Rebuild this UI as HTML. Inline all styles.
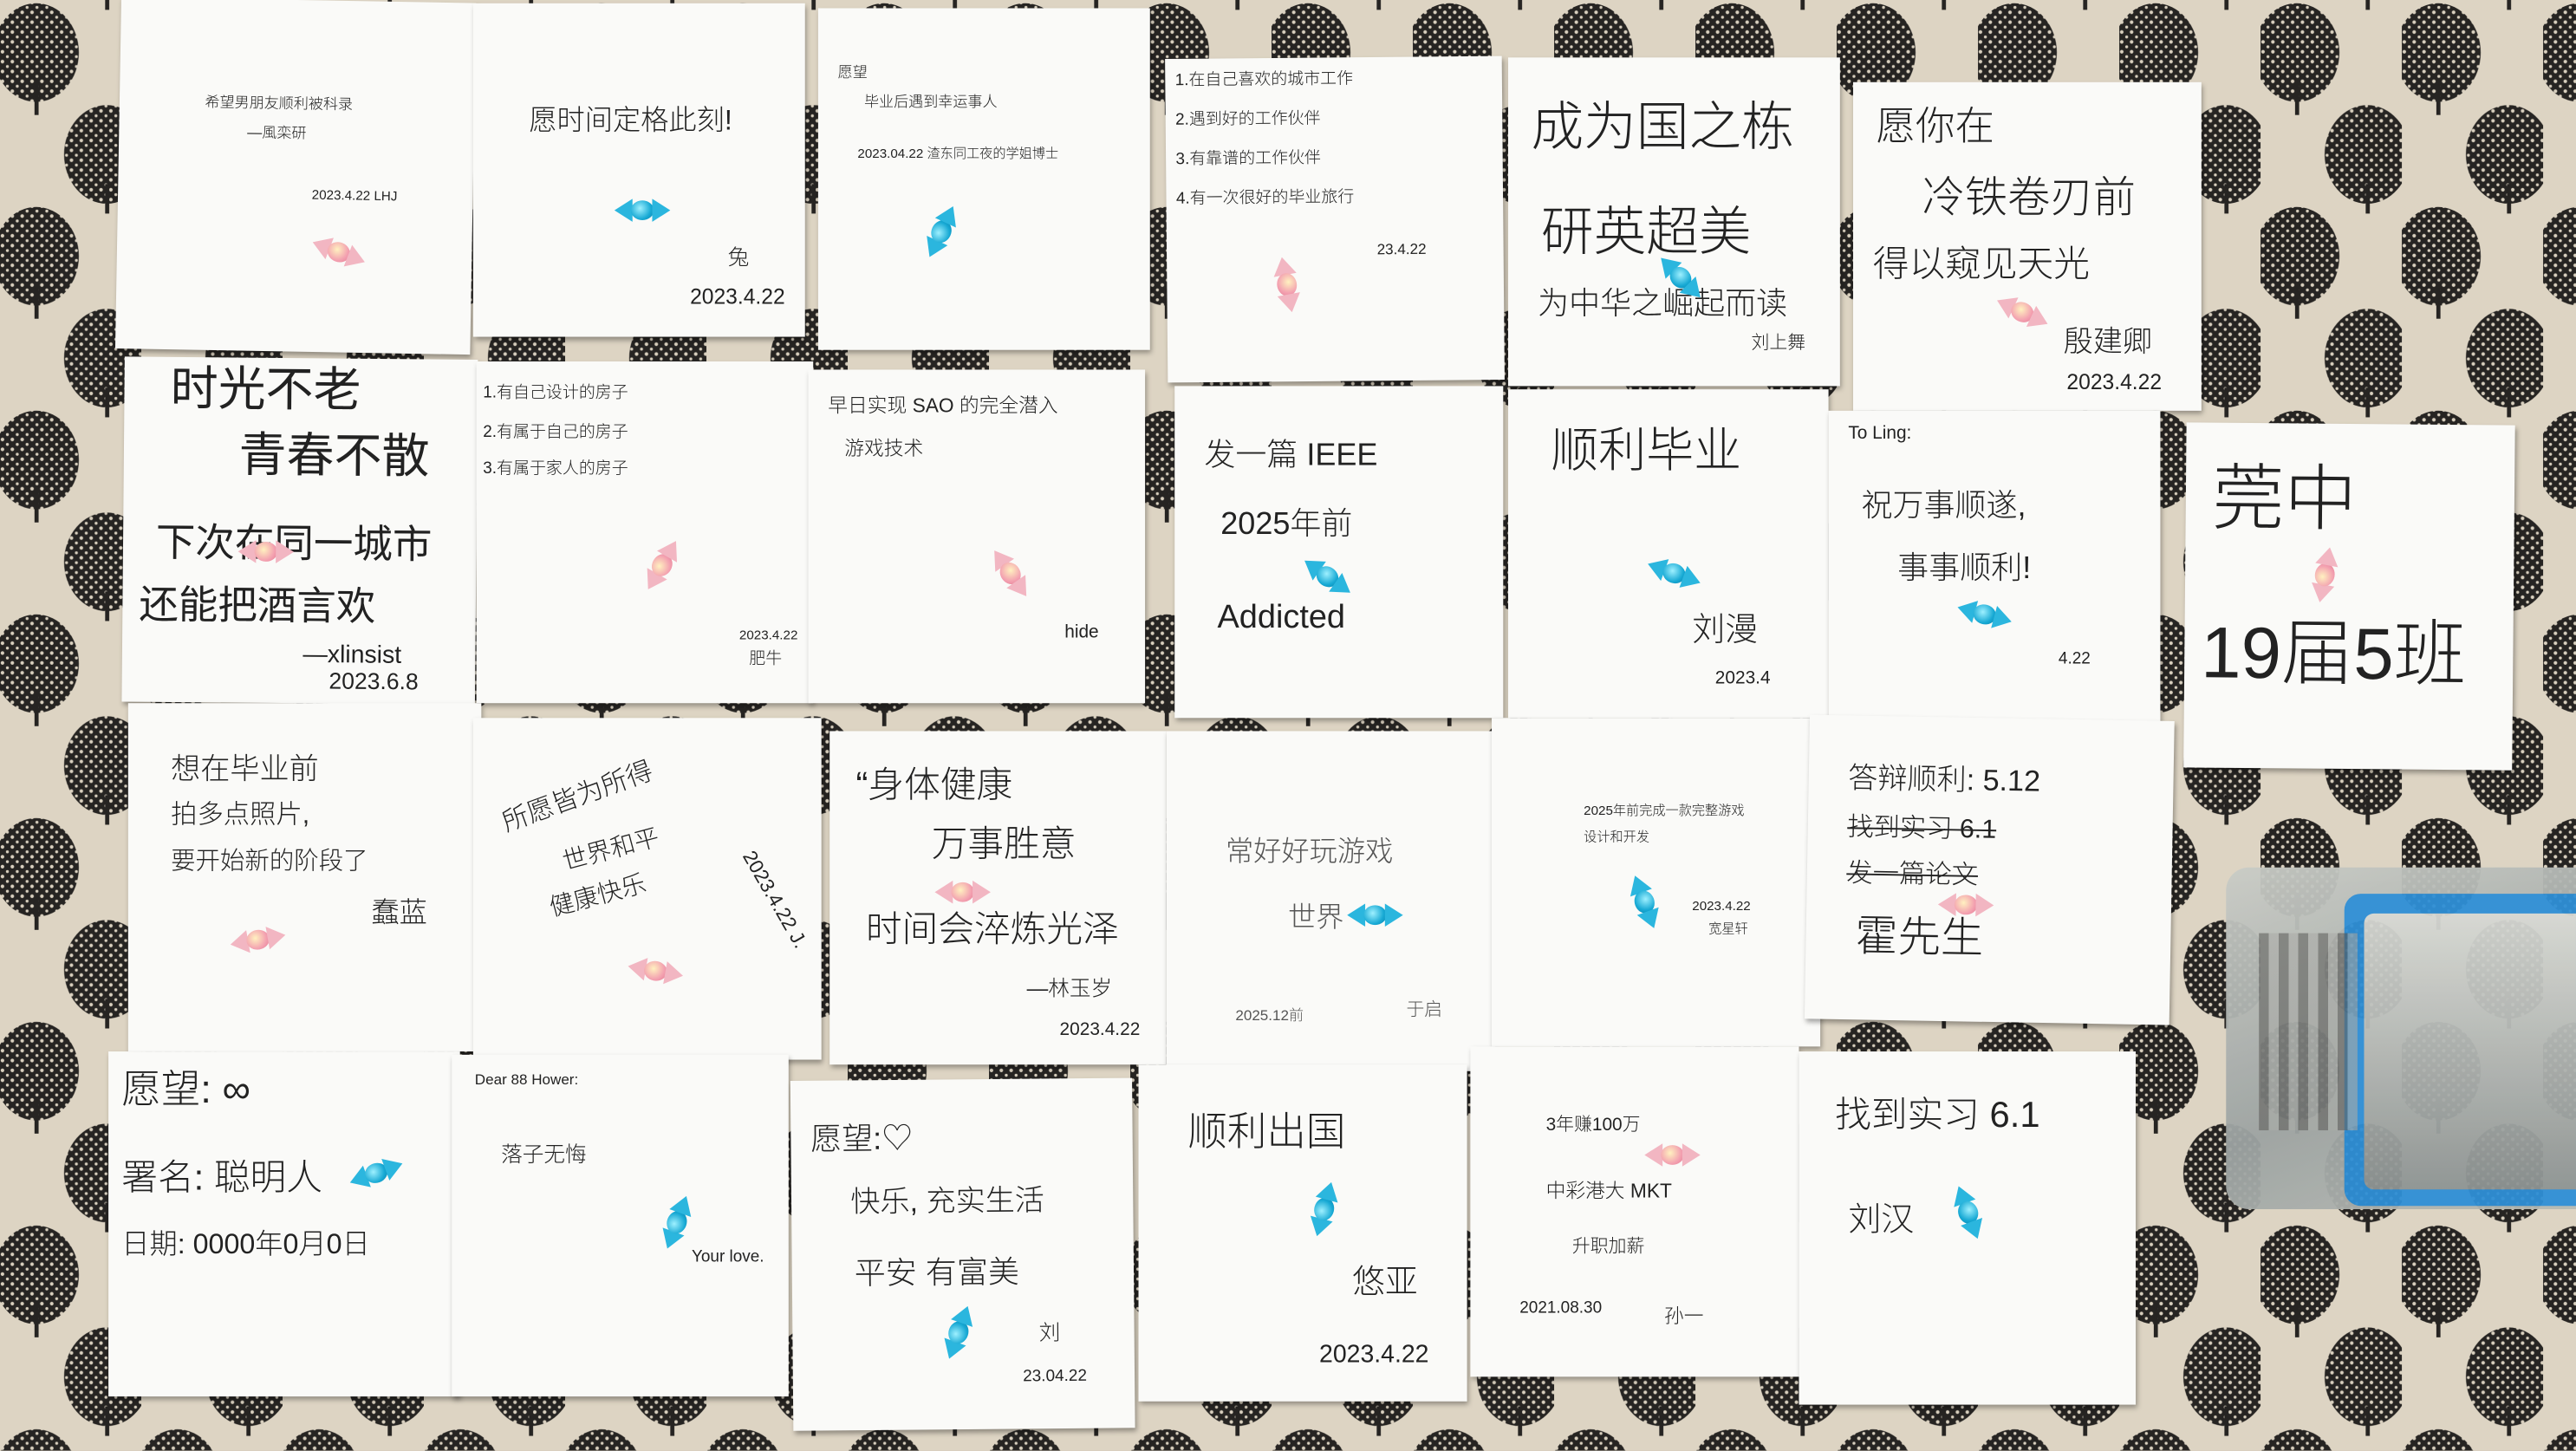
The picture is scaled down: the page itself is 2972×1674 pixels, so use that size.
<!DOCTYPE html>
<html><head><meta charset="utf-8">
<style>
html,body{margin:0;padding:0;width:2972px;height:1673px;overflow:hidden;background:#d6cdbd;}
#stage{position:absolute;left:0;top:0;width:1568px;height:883px;transform:scale(1.8954);transform-origin:0 0;}
.note{position:absolute;background:#fafaf8;box-shadow:1px 2px 3px rgba(0,0,0,.35);font-family:"Liberation Sans","Noto Sans CJK SC",sans-serif;color:#222;overflow:hidden;}
.t{position:absolute;white-space:nowrap;font-weight:300;line-height:1.15;}
.candy{position:absolute;width:34px;height:16px;}
.candy .b{position:absolute;left:10px;top:2px;width:14px;height:12px;border-radius:50%;}
.candy .l,.candy .r{position:absolute;top:1px;width:0;height:0;border-top:7px solid transparent;border-bottom:7px solid transparent;}
.candy .l{left:0;border-right:11px solid}
.candy .r{right:0;border-left:11px solid}
.pink .b{background:radial-gradient(circle at 40% 40%,#fff1c0,#f3a0b0 60%,#e27a90)}
.pink .l,.pink .r{border-left-color:#f2b6c2;border-right-color:#f2b6c2}
.blue .b{background:radial-gradient(circle at 40% 40%,#9ef0ff,#17a9d4 60%,#0a7ea8)}
.blue .l,.blue .r{border-left-color:#2bb6de;border-right-color:#2bb6de}
</style></head>
<body>
<div id="stage">
<svg width="1568" height="883" style="position:absolute;left:0;top:0">
<defs>
<pattern id="lace" width="6" height="6" patternUnits="userSpaceOnUse">
<rect width="6" height="6" fill="#262422"/>
<circle cx="1.5" cy="1.5" r="1.1" fill="#d9d0bf"/>
<circle cx="4.5" cy="4.5" r="0.9" fill="#d9d0bf"/>
</pattern>
<pattern id="tp" width="86" height="124" patternUnits="userSpaceOnUse">
<rect width="86" height="124" fill="#ddd4c3"/>
<ellipse cx="22" cy="32" rx="26" ry="30" fill="url(#lace)"/>
<rect x="21" y="50" width="2.5" height="20" fill="#262422"/>
<ellipse cx="65" cy="94" rx="26" ry="30" fill="url(#lace)"/>
<rect x="64" y="112" width="2.5" height="14" fill="#262422"/>
<rect x="64" y="0" width="2.5" height="6" fill="#262422"/>
</pattern>
</defs>
<rect width="1568" height="883" fill="url(#tp)"/>
</svg>

<!-- Row 1 -->
<div class="note" style="left:72px;top:0;width:216px;height:214px;transform:rotate(1deg)">
<div class="t" style="left:52px;top:58px;font-size:9px">希望男朋友顺利被科录</div>
<div class="t" style="left:78px;top:76px;font-size:9px">—風栾研</div>
<div class="t" style="left:118px;top:114px;font-size:8px">2023.4.22 LHJ</div>
<div class="candy pink" style="left:118px;top:145px;transform:rotate(20deg)"><div class="l"></div><div class="b"></div><div class="r"></div></div>
</div>
<div class="note" style="left:288px;top:2px;width:202px;height:203px">
<div class="t" style="left:34px;top:62px;font-size:17px">愿时间定格此刻!</div>
<div class="candy blue" style="left:86px;top:118px"><div class="l"></div><div class="b"></div><div class="r"></div></div>
<div class="t" style="left:155px;top:148px;font-size:13px">兔</div>
<div class="t" style="left:132px;top:172px;font-size:13px">2023.4.22</div>
</div>
<div class="note" style="left:498px;top:5px;width:202px;height:208px">
<div class="t" style="left:12px;top:34px;font-size:9px">愿望</div>
<div class="t" style="left:28px;top:52px;font-size:9px">毕业后遇到幸运事人</div>
<div class="t" style="left:24px;top:84px;font-size:8px">2023.04.22 渣东同工夜的学姐博士</div>
<div class="candy blue" style="left:58px;top:128px;transform:rotate(-65deg)"><div class="l"></div><div class="b"></div><div class="r"></div></div>
</div>
<div class="note" style="left:710px;top:35px;width:205px;height:197px;transform:rotate(-0.5deg)">
<div class="t" style="left:6px;top:8px;font-size:10px">1.在自己喜欢的城市工作</div>
<div class="t" style="left:6px;top:32px;font-size:10px">2.遇到好的工作伙伴</div>
<div class="t" style="left:6px;top:56px;font-size:10px">3.有靠谱的工作伙伴</div>
<div class="t" style="left:6px;top:80px;font-size:10px">4.有一次很好的毕业旅行</div>
<div class="candy pink" style="left:56px;top:130px;transform:rotate(80deg)"><div class="l"></div><div class="b"></div><div class="r"></div></div>
<div class="t" style="left:128px;top:112px;font-size:9px">23.4.22</div>
</div>
<div class="note" style="left:918px;top:35px;width:202px;height:200px">
<div class="t" style="left:14px;top:24px;font-size:32px">成为国之栋</div>
<div class="t" style="left:20px;top:88px;font-size:32px">研英超美</div>
<div class="t" style="left:18px;top:140px;font-size:19px">为中华之崛起而读</div>
<div class="t" style="left:148px;top:168px;font-size:11px">刘上舞</div>
<div class="candy blue" style="left:88px;top:126px;transform:rotate(45deg)"><div class="l"></div><div class="b"></div><div class="r"></div></div>
</div>
<div class="note" style="left:1128px;top:50px;width:212px;height:200px">
<div class="t" style="left:14px;top:14px;font-size:24px">愿你在</div>
<div class="t" style="left:42px;top:56px;font-size:26px">冷铁卷刃前</div>
<div class="t" style="left:12px;top:98px;font-size:22px">得以窥见天光</div>
<div class="candy pink" style="left:86px;top:132px;transform:rotate(25deg)"><div class="l"></div><div class="b"></div><div class="r"></div></div>
<div class="t" style="left:128px;top:148px;font-size:18px">殷建卿</div>
<div class="t" style="left:130px;top:176px;font-size:13px">2023.4.22</div>
</div>

<!-- Row 2 -->
<div class="note" style="left:75px;top:218px;width:215px;height:210px;transform:rotate(0.5deg)">
<div class="t" style="left:28px;top:4px;font-size:29px;font-weight:400">时光不老</div>
<div class="t" style="left:70px;top:44px;font-size:29px;font-weight:400">青春不散</div>
<div class="t" style="left:20px;top:100px;font-size:24px;font-weight:400">下次在同一城市</div>
<div class="t" style="left:10px;top:138px;font-size:24px;font-weight:400">还能把酒言欢</div>
<div class="t" style="left:110px;top:172px;font-size:15px">—xlinsist</div>
<div class="t" style="left:126px;top:188px;font-size:14px;font-weight:400">2023.6.8</div>
<div class="candy pink" style="left:70px;top:110px"><div class="l"></div><div class="b"></div><div class="r"></div></div>
</div>
<div class="note" style="left:290px;top:220px;width:205px;height:208px">
<div class="t" style="left:4px;top:14px;font-size:10px">1.有自己设计的房子</div>
<div class="t" style="left:4px;top:38px;font-size:10px">2.有属于自己的房子</div>
<div class="t" style="left:4px;top:60px;font-size:10px">3.有属于家人的房子</div>
<div class="candy pink" style="left:96px;top:116px;transform:rotate(-60deg)"><div class="l"></div><div class="b"></div><div class="r"></div></div>
<div class="t" style="left:160px;top:162px;font-size:8px">2023.4.22</div>
<div class="t" style="left:166px;top:176px;font-size:10px">肥牛</div>
</div>
<div class="note" style="left:492px;top:225px;width:205px;height:203px">
<div class="t" style="left:12px;top:16px;font-size:12px">早日实现 SAO 的完全潜入</div>
<div class="t" style="left:22px;top:42px;font-size:12px">游戏技术</div>
<div class="candy pink" style="left:106px;top:116px;transform:rotate(55deg)"><div class="l"></div><div class="b"></div><div class="r"></div></div>
<div class="t" style="left:156px;top:154px;font-size:11px">hide</div>
</div>
<div class="note" style="left:715px;top:235px;width:200px;height:202px">
<div class="t" style="left:18px;top:32px;font-size:19px">发一篇 IEEE</div>
<div class="t" style="left:28px;top:74px;font-size:19px">2025年前</div>
<div class="t" style="left:26px;top:130px;font-size:20px">Addicted</div>
<div class="candy blue" style="left:76px;top:108px;transform:rotate(35deg)"><div class="l"></div><div class="b"></div><div class="r"></div></div>
</div>
<div class="note" style="left:918px;top:237px;width:195px;height:200px">
<div class="t" style="left:26px;top:22px;font-size:29px">顺利毕业</div>
<div class="candy blue" style="left:84px;top:104px;transform:rotate(20deg)"><div class="l"></div><div class="b"></div><div class="r"></div></div>
<div class="t" style="left:112px;top:136px;font-size:20px">刘漫</div>
<div class="t" style="left:126px;top:170px;font-size:11px">2023.4</div>
</div>
<div class="note" style="left:1113px;top:250px;width:202px;height:200px">
<div class="t" style="left:12px;top:8px;font-size:11px">To Ling:</div>
<div class="t" style="left:20px;top:48px;font-size:19px">祝万事顺遂,</div>
<div class="t" style="left:42px;top:86px;font-size:19px">事事顺利!</div>
<div class="candy blue" style="left:78px;top:116px;transform:rotate(15deg)"><div class="l"></div><div class="b"></div><div class="r"></div></div>
<div class="t" style="left:140px;top:146px;font-size:10px">4.22</div>
</div>
<div class="note" style="left:1330px;top:258px;width:200px;height:210px;transform:rotate(0.5deg)">
<div class="t" style="left:16px;top:22px;font-size:44px">莞中</div>
<div class="t" style="left:10px;top:116px;font-size:44px">19届5班</div>
<div class="candy pink" style="left:68px;top:84px;transform:rotate(-80deg)"><div class="l"></div><div class="b"></div><div class="r"></div></div>
</div>

<!-- Row 3 -->
<div class="note" style="left:78px;top:428px;width:215px;height:212px">
<div class="t" style="left:26px;top:30px;font-size:18px">想在毕业前</div>
<div class="t" style="left:26px;top:60px;font-size:16px">拍多点照片,</div>
<div class="t" style="left:26px;top:88px;font-size:15px">要开始新的阶段了</div>
<div class="t" style="left:148px;top:118px;font-size:17px">蠢蓝</div>
<div class="candy pink" style="left:62px;top:136px;transform:rotate(-10deg)"><div class="l"></div><div class="b"></div><div class="r"></div></div>
</div>
<div class="note" style="left:288px;top:437px;width:212px;height:208px">
<div class="t" style="left:16px;top:40px;font-size:16px;transform:rotate(-20deg)">所愿皆为所得</div>
<div class="t" style="left:54px;top:72px;font-size:15px;transform:rotate(-15deg)">世界和平</div>
<div class="t" style="left:46px;top:100px;font-size:15px;transform:rotate(-15deg)">健康快乐</div>
<div class="t" style="left:150px;top:104px;font-size:12px;transform:rotate(60deg)">2023.4.22 J.</div>
<div class="candy pink" style="left:94px;top:146px;transform:rotate(10deg)"><div class="l"></div><div class="b"></div><div class="r"></div></div>
</div>
<div class="note" style="left:505px;top:445px;width:205px;height:203px">
<div class="t" style="left:16px;top:20px;font-size:22px">“身体健康</div>
<div class="t" style="left:62px;top:56px;font-size:22px">万事胜意</div>
<div class="t" style="left:22px;top:108px;font-size:22px">时间会淬炼光泽</div>
<div class="t" style="left:120px;top:150px;font-size:13px">—林玉岁</div>
<div class="t" style="left:140px;top:176px;font-size:11px">2023.4.22</div>
<div class="candy pink" style="left:64px;top:90px"><div class="l"></div><div class="b"></div><div class="r"></div></div>
</div>
<div class="note" style="left:710px;top:445px;width:200px;height:207px">
<div class="t" style="left:36px;top:64px;font-size:17px;color:#555">常好好玩游戏</div>
<div class="t" style="left:74px;top:104px;font-size:17px;color:#555">世界</div>
<div class="candy blue" style="left:110px;top:104px"><div class="l"></div><div class="b"></div><div class="r"></div></div>
<div class="t" style="left:42px;top:168px;font-size:9px;color:#555">2025.12前</div>
<div class="t" style="left:146px;top:164px;font-size:11px;color:#555">于启</div>
</div>
<div class="note" style="left:908px;top:437px;width:200px;height:200px">
<div class="t" style="left:56px;top:52px;font-size:8px">2025年前完成一款完整游戏</div>
<div class="t" style="left:56px;top:68px;font-size:8px">设计和开发</div>
<div class="candy blue" style="left:76px;top:104px;transform:rotate(70deg)"><div class="l"></div><div class="b"></div><div class="r"></div></div>
<div class="t" style="left:122px;top:110px;font-size:8px">2023.4.22</div>
<div class="t" style="left:132px;top:124px;font-size:8px">宽星轩</div>
</div>
<div class="note" style="left:1100px;top:437px;width:222px;height:185px;transform:rotate(1deg)">
<div class="t" style="left:24px;top:28px;font-size:18px">答辩顺利: 5.12</div>
<div class="t" style="left:24px;top:60px;font-size:16px;text-decoration:line-through">找到实习 6.1</div>
<div class="t" style="left:24px;top:88px;font-size:16px;text-decoration:line-through">发一篇论文</div>
<div class="t" style="left:30px;top:120px;font-size:26px">霍先生</div>
<div class="candy pink" style="left:80px;top:106px"><div class="l"></div><div class="b"></div><div class="r"></div></div>
</div>

<!-- Row 4 -->
<div class="note" style="left:66px;top:640px;width:214px;height:210px">
<div class="t" style="left:8px;top:10px;font-size:24px">愿望: ∞</div>
<div class="t" style="left:8px;top:64px;font-size:22px">署名: 聪明人</div>
<div class="t" style="left:8px;top:108px;font-size:17px">日期: 0000年0月0日</div>
<div class="candy blue" style="left:146px;top:66px;transform:rotate(-20deg)"><div class="l"></div><div class="b"></div><div class="r"></div></div>
</div>
<div class="note" style="left:275px;top:642px;width:205px;height:208px">
<div class="t" style="left:14px;top:10px;font-size:9px">Dear 88 Hower:</div>
<div class="t" style="left:30px;top:54px;font-size:13px">落子无悔</div>
<div class="candy blue" style="left:120px;top:94px;transform:rotate(-70deg)"><div class="l"></div><div class="b"></div><div class="r"></div></div>
<div class="t" style="left:146px;top:118px;font-size:10px">Your love.</div>
</div>
<div class="note" style="left:482px;top:657px;width:208px;height:213px;transform:rotate(-0.5deg)">
<div class="t" style="left:12px;top:26px;font-size:19px">愿望:♡</div>
<div class="t" style="left:36px;top:64px;font-size:18px">快乐, 充实生活</div>
<div class="t" style="left:38px;top:108px;font-size:19px">平安 有富美</div>
<div class="t" style="left:150px;top:148px;font-size:13px">刘</div>
<div class="t" style="left:140px;top:176px;font-size:10px">23.04.22</div>
<div class="candy blue" style="left:84px;top:146px;transform:rotate(-70deg)"><div class="l"></div><div class="b"></div><div class="r"></div></div>
</div>
<div class="note" style="left:693px;top:648px;width:200px;height:205px">
<div class="t" style="left:30px;top:28px;font-size:24px">顺利出国</div>
<div class="candy blue" style="left:96px;top:80px;transform:rotate(-75deg)"><div class="l"></div><div class="b"></div><div class="r"></div></div>
<div class="t" style="left:130px;top:122px;font-size:20px">悠亚</div>
<div class="t" style="left:110px;top:168px;font-size:15px">2023.4.22</div>
</div>
<div class="note" style="left:895px;top:637px;width:200px;height:201px">
<div class="t" style="left:46px;top:42px;font-size:11px">3年赚100万</div>
<div class="t" style="left:46px;top:82px;font-size:12px">中彩港大 MKT</div>
<div class="t" style="left:62px;top:116px;font-size:11px">升职加薪</div>
<div class="t" style="left:30px;top:154px;font-size:10px">2021.08.30</div>
<div class="t" style="left:118px;top:158px;font-size:12px">孙一</div>
<div class="candy pink" style="left:106px;top:58px"><div class="l"></div><div class="b"></div><div class="r"></div></div>
</div>
<div class="note" style="left:1095px;top:640px;width:205px;height:215px">
<div class="t" style="left:22px;top:26px;font-size:22px">找到实习 6.1</div>
<div class="t" style="left:30px;top:92px;font-size:20px">刘汉</div>
<div class="candy blue" style="left:86px;top:90px;transform:rotate(70deg)"><div class="l"></div><div class="b"></div><div class="r"></div></div>
</div>

<!-- Plastic box -->
<div style="position:absolute;left:1355px;top:528px;width:213px;height:208px;background:linear-gradient(160deg,#c9ccc6,#9da3a2 60%,#b7bbb5);border-radius:14px 0 0 14px;opacity:.95">
<div style="position:absolute;left:72px;top:16px;width:141px;height:190px;background:#2f8fd6;border-radius:10px 0 0 10px"></div>
<div style="position:absolute;left:84px;top:28px;width:129px;height:168px;background:linear-gradient(180deg,#d7d9d4,#8e9493);border-radius:6px 0 0 6px"></div>
<div style="position:absolute;left:20px;top:40px;width:60px;height:120px;background:repeating-linear-gradient(90deg,#5a5a58 0 6px,#a8aaa6 6px 12px);opacity:.6"></div>
</div>
</div>
</body></html>
